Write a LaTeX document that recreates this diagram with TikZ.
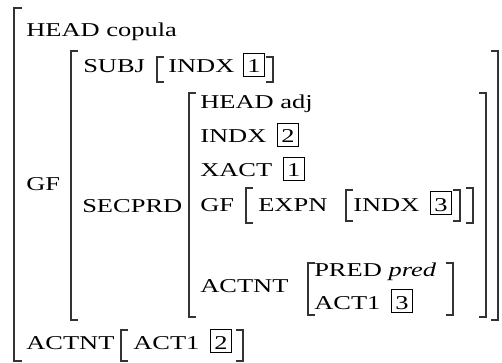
\documentclass[tikz,border=0pt]{standalone}
\usepackage{fontspec}
\setmainfont{Liberation Serif}
\usetikzlibrary{positioning}

\begin{document}
\begin{tikzpicture}[x=1pt, y=-1pt, node distance=10pt, font=\fontsize{19.6}{23}\selectfont]
        \tikzstyle{attr} = [anchor=base west, inner sep=0pt, xscale=1.35]
        \tikzstyle{tag} = [draw, line width=0.7pt, xscale=1.35, inner xsep=0pt, inner ysep=2.5pt, text height=17.5pt, text depth=0.5pt, minimum width=16pt]
        \tikzstyle{brk} = [line width=1.1pt, black!80]

        \useasboundingbox (0,0) rectangle (502,363);

        % outer matrix
        \node[attr](head) at (26,37) {HEAD copula};
        \node[attr](gf) at (26,190) {GF};
        \node[attr](actnt) at (26,349) {ACTNT};
        \draw[brk] (22,8) -| (14,361) -- (22,361);

        % GF value
        \node[attr](subj) at (83,73) {SUBJ};
        \node[attr](subj_indx) at (168,73) {INDX};
        \node[tag](tag_a) [base right=8pt of subj_indx] {1};
        \node[attr](secprd) at (82,212) {SECPRD};
        \draw[brk] (78,51) -| (71,320) -- (78,320);
        \draw[brk] (491,51) -| (498,320) -- (491,320);
        \draw[brk] (164,57) -| (157,82) -- (164,82);
        \draw[brk] (266,57) -| (273,82) -- (266,82);

        % SECPRD value
        \node[attr](head_adj) at (200,109) {HEAD adj};
        \node[attr](indx) at (200,143) {INDX};
        \node[tag](tag_b) [base right=of indx] {2};
        \node[attr](xact) at (200,177) {XACT};
        \node[tag](tag_c) [base right=of xact] {1};
        \node[attr](gf_in) at (200,211) {GF};
        \node[attr](expn) at (258,211) {EXPN};
        \node[attr](expn_indx) at (353,211) {INDX};
        \node[tag](tag_d) [base right=of expn_indx] {3};
        \node[attr](actnt_in) at (200,292) {ACTNT};
        \node[attr](pred) at (314,276) {PRED \textit{pred}};
        \node[attr](act_in) at (314,309) {ACT1};
        \node[tag](tag_e) [base right=of act_in] {3};
        \draw[brk] (196,93) -| (189,317) -- (196,317);
        \draw[brk] (479,93) -| (486,317) -- (479,317);
        \draw[brk] (253,188) -| (246,223) -- (253,223);
        \draw[brk] (353,190) -| (346,221) -- (353,221);
        \draw[brk] (453,190) -| (460,221) -- (453,221);
        \draw[brk] (466,188) -| (473,223) -- (466,223);
        \draw[brk] (315,263) -| (308,315) -- (315,315);
        \draw[brk] (446,263) -| (453,315) -- (446,315);

        % ACTNT value
        \node[attr](act) at (133,349) {ACT1};
        \node[tag](tag_f) [base right=of act] {2};
        \draw[brk] (128,330) -| (121,361) -- (128,361);
        \draw[brk] (236,330) -| (243,361) -- (236,361);
\end{tikzpicture}
\end{document}
